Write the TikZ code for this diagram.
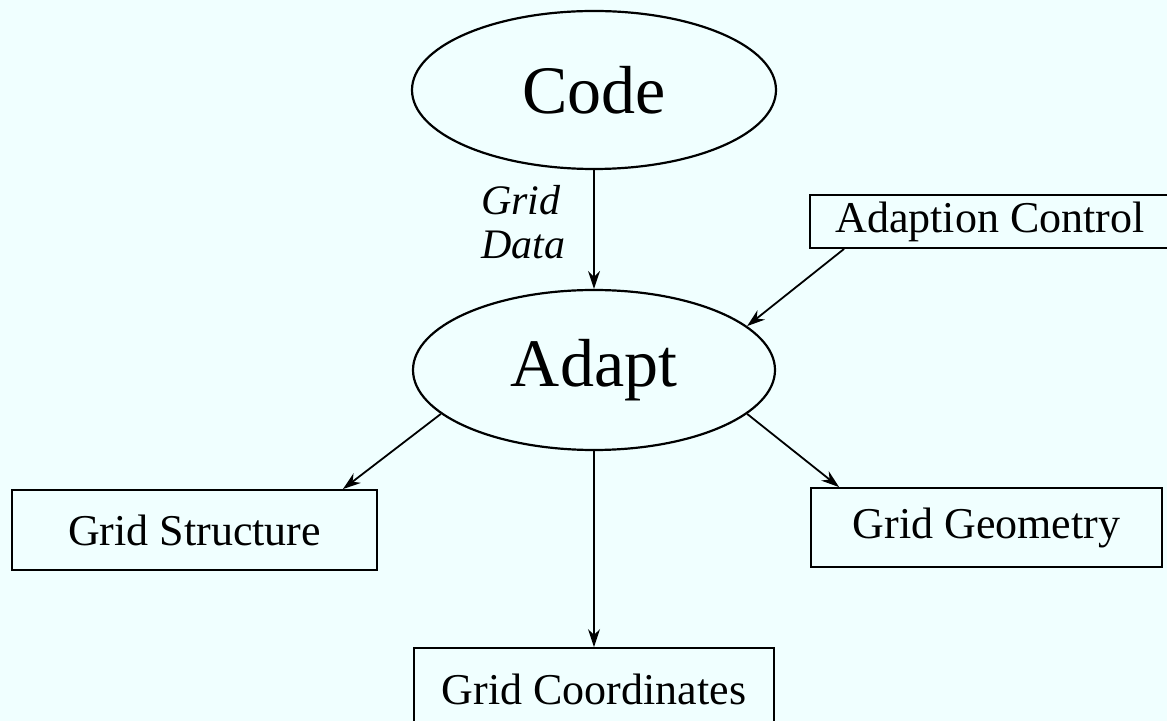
\documentclass[tikz,border=0pt]{standalone}
\usepackage{fontspec}
\setmainfont{Liberation Serif}
\usetikzlibrary{arrows.meta, shapes.geometric}

\definecolor{mbg}{RGB}{240, 255, 255}

\begin{document}
\begin{tikzpicture}[x=0.5pt, y=-0.5pt,
		oval/.style={draw, ellipse, line width=1.1pt, inner sep=0pt,
				minimum width=182pt, minimum height=79pt,
				font=\fontsize{34}{40}\selectfont},
		box/.style={draw, rectangle, line width=0.9pt, inner sep=0pt,
				font=\fontsize{22}{26}\selectfont},
		arr/.style={-{Stealth[length=9pt, width=6pt]}, line width=0.9pt}]
			\useasboundingbox[fill=mbg] (0,0) rectangle (1167,721);

			% --- Ovals ---
			\node[oval] (code) at (594, 90) {Code};
			\node[oval, minimum width=181pt, minimum height=80pt] (adapt) at (594, 370) {Adapt};

			% --- Boxes ---
			\node[box, minimum width=180pt, minimum height=26.5pt] (ctrl) at (990, 221.5) {Adaption Control};
			\node[box, minimum width=182.5pt, minimum height=40pt] (struct) at (194.5, 530) {Grid Structure};
			\node[box, minimum width=175.5pt, minimum height=39.5pt] (geom) at (986.5, 527.5) {Grid Geometry};
			\node[box, minimum width=180pt, minimum height=41pt] (coord) at (594, 689) {Grid Coordinates};

			% Label on the input arrow
			\node[align=left, anchor=west, font=\fontsize{21}{22}\selectfont\itshape] (gdata) at (474, 222) {Grid\\Data};

			% --- Arrows ---
			\draw[arr] (code.south) -- (adapt.north);
			\draw[arr] ([xshift=17.5pt]ctrl.south west) -- (adapt.16);
			\draw[arr] (adapt.196) -- ([xshift=-17.5pt]struct.north east);
			\draw[arr] (adapt.-16) -- ([xshift=14.5pt]geom.north west);
			\draw[arr] (adapt.south) -- (coord.north);

		\end{tikzpicture}
\end{document}
